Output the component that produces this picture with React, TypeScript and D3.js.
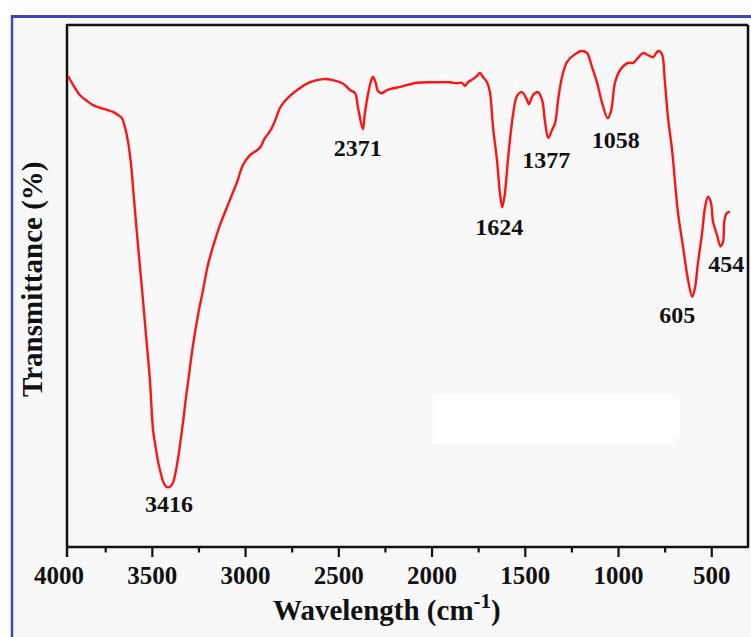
import React from "react";
import * as d3 from "d3";

// FTIR spectrum: wavenumber (cm^-1) and transmittance (%)
const wavenumbers = [
  3952, 3915, 3888, 3850, 3818, 3781, 3743, 3711, 3684, 3663, 3647, 3630, 3614, 3598,
  3577, 3555, 3534, 3513, 3496, 3480, 3468, 3454, 3441, 3427, 3416, 3400, 3388, 3373,
  3361, 3346, 3334, 3320, 3307, 3282, 3255, 3228, 3202, 3169, 3137, 3105, 3084, 3046,
  3014, 2976, 2944, 2923, 2896, 2869, 2842, 2815, 2789, 2762, 2708, 2654, 2585, 2531,
  2477, 2440, 2413, 2397, 2371, 2360, 2346, 2330, 2317, 2303, 2290, 2268, 2242, 2172,
  2081, 1995, 1904, 1866, 1839, 1823, 1807, 1780, 1759, 1743, 1727, 1705, 1689, 1673,
  1652, 1636, 1624, 1611, 1593, 1566, 1544, 1518, 1491, 1480, 1459, 1432, 1410, 1394,
  1377, 1357, 1340, 1324, 1303, 1276, 1233, 1196, 1169, 1142, 1115, 1088, 1058, 1040,
  1019, 992, 949, 922, 895, 869, 842, 815, 794, 783, 767, 751, 735, 713, 681, 654, 627,
  605, 590, 574, 552, 536, 520, 504, 493, 472, 454, 440, 432, 418, 402,
];

const transmittance = [
  90.4, 88.1, 86.7, 85.6, 84.8, 84.3, 83.9, 83.5, 82.9, 82.3, 80.6, 77.7, 73.3, 66.6,
  57.9, 49.3, 40.7, 32.0, 22.4, 18.6, 16.1, 14.0, 12.4, 11.6, 11.4, 11.7, 12.4, 14.7,
  17.2, 21.1, 24.3, 28.6, 32.0, 38.7, 44.5, 49.3, 54.1, 58.3, 61.8, 64.7, 66.6, 70.0,
  73.3, 75.2, 76.0, 76.6, 78.5, 79.8, 81.8, 84.3, 85.6, 86.6, 88.1, 89.2, 89.8, 89.6,
  88.9, 87.7, 87.1, 84.3, 80.2, 83.3, 86.4, 89.1, 90.2, 89.2, 87.5, 87.1, 87.7, 88.3,
  89.1, 89.2, 89.2, 89.0, 89.1, 88.5, 89.2, 89.8, 90.4, 91.0, 90.2, 89.2, 87.1, 80.6,
  74.3, 67.9, 65.2, 67.4, 74.3, 82.9, 86.6, 87.3, 85.8, 85.0, 86.7, 87.3, 85.8, 81.6,
  78.5, 80.0, 81.4, 85.8, 90.2, 93.1, 94.6, 95.2, 94.8, 92.1, 89.1, 85.2, 82.3, 83.7,
  89.1, 91.5, 92.9, 92.9, 93.9, 94.8, 94.4, 94.0, 95.0, 95.2, 94.6, 89.1, 82.5, 76.2,
  64.1, 57.6, 51.2, 48.0, 49.7, 54.5, 60.2, 65.2, 67.2, 66.0, 62.4, 59.9, 57.7, 58.5,
  62.7, 64.1, 64.3,
];

// Annotated band positions
const peakLabels = [3416, 2371, 1624, 1377, 1058, 605, 454];

const majorTicks = [4000, 3500, 3000, 2500, 2000, 1500, 1000, 500];
const minorTicks = [3750, 3250, 2750, 2250, 1750, 1250, 750];

const W = 751;
const H = 637;
const box = { left: 67, right: 748, top: 25, bottom: 547 };

const x = d3.scaleLinear().domain([4000, 300]).range([59.1, 749.06]);
const y = d3.scaleLinear().domain([0, 100]).range([546.7, 26]);

// label offsets (dx, baseline dy) relative to each band minimum
const labelOffset: Record<number, [number, number]> = {
  3416: [1, 25],
  2371: [-5, 27],
  1624: [-3, 28],
  1377: [-2, 30],
  1058: [8, 30],
  605: [-15, 26],
  454: [6, 26],
};

const serif = "'Liberation Serif', 'Times New Roman', serif";

export default function App() {
  const pts = wavenumbers.map((w, i) => [w, transmittance[i]] as [number, number]);
  const line = d3
    .line<[number, number]>()
    .x((d) => x(d[0]))
    .y((d) => y(d[1]))
    .curve(d3.curveCatmullRom.alpha(0.5));
  const path = line(pts) || "";
  const lookup = new Map(pts.map((p) => [p[0], p[1]]));

  return (
    <svg
      width={W}
      height={H}
      style={{ position: "absolute", left: 0, top: 0, background: "#ffffff" }}
    >
      <rect x={11} y={15} width={W - 11} height={H - 15} fill="#f8f8f8" />
      {/* frame */}
      <line x1={11} y1={16.5} x2={W} y2={16.5} stroke="#3d48b4" strokeWidth={3} />
      <line x1={12} y1={15} x2={12} y2={H} stroke="#3d48b4" strokeWidth={2.5} />

      {/* blank panel inside plot */}
      <rect x={433} y={394} width={241} height={50} fill="#ffffff" />
      <rect x={673} y={398} width={7} height={40} fill="#ffffff" />

      {/* plot box */}
      <line x1={box.left} y1={box.top} x2={box.right} y2={box.top} stroke="#111" strokeWidth={2.5} />
      <line x1={box.right} y1={box.top} x2={box.right} y2={box.bottom} stroke="#111" strokeWidth={2.5} />
      <line x1={box.left} y1={box.top - 1} x2={box.left} y2={box.bottom + 10} stroke="#111" strokeWidth={2.5} />
      <line x1={box.left} y1={box.bottom} x2={box.right + 1} y2={box.bottom} stroke="#111" strokeWidth={2.5} />

      {majorTicks
        .filter((t) => x(t) >= box.left)
        .map((t) => (
          <line key={"M" + t} x1={x(t)} x2={x(t)} y1={box.bottom} y2={box.bottom + 10} stroke="#111" strokeWidth={2.2} />
        ))}
      {minorTicks.map((t) => (
        <line key={"m" + t} x1={x(t)} x2={x(t)} y1={box.bottom} y2={box.bottom + 5.5} stroke="#111" strokeWidth={2.2} />
      ))}
      {majorTicks.map((t) => (
        <text
          key={"L" + t}
          x={x(t)}
          y={584}
          textAnchor="middle"
          fontFamily={serif}
          fontWeight="bold"
          fontSize={25}
          fill="#111"
        >
          {t}
        </text>
      ))}

      {/* spectrum */}
      <path d={path} fill="none" stroke="#ff1414" strokeWidth={2.4} strokeLinejoin="round" />

      {peakLabels.map((p) => {
        const [dx, dy] = labelOffset[p];
        const t = lookup.get(p) ?? 0;
        return (
          <text
            key={"p" + p}
            x={x(p) + dx}
            y={y(t) + dy}
            textAnchor="middle"
            fontFamily={serif}
            fontWeight="bold"
            fontSize={24}
            fill="#111"
          >
            {p}
          </text>
        );
      })}

      {/* axis titles */}
      <text x={273} y={620} fontFamily={serif} fontWeight="bold" fontSize={29} fill="#111">
        Wavelength (cm
        <tspan fontSize={21} dy={-12}>-1</tspan>
        <tspan dy={12}>)</tspan>
      </text>
      <text
        transform="translate(42,397) rotate(-90)"
        fontFamily={serif}
        fontWeight="bold"
        fontSize={29}
        fill="#111"
      >
        Transmittance (%)
      </text>
    </svg>
  );
}
